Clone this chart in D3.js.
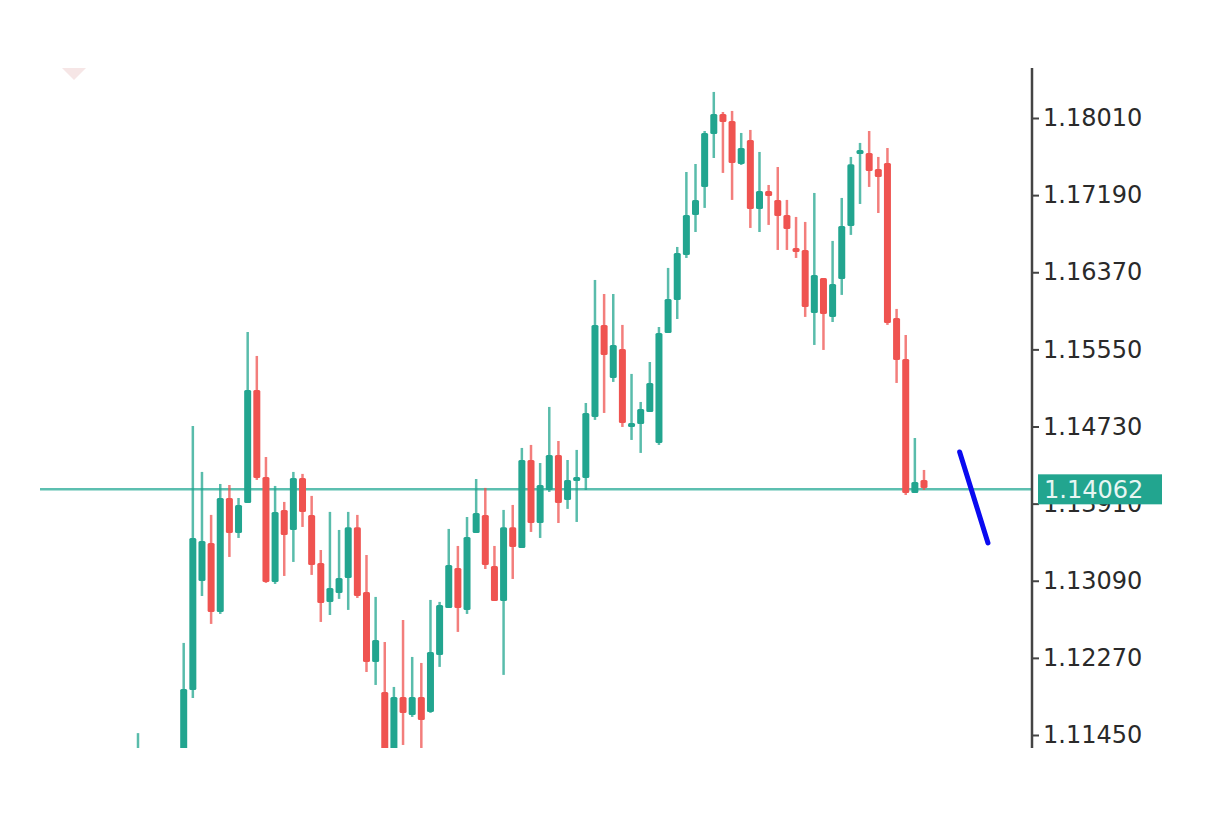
<!DOCTYPE html>
<html>
<head>
<meta charset="utf-8">
<script src="https://cdn.jsdelivr.net/npm/d3@7"></script>
<style>
  body { margin: 0; background: #fff; }
</style>
</head>
<body>
<div id="chart"></div>
<script>
// candle data (index order), prices
const opens  = [1.1108,1.1120,1.1095,1.1105,1.1085,1.1100,1.11929,1.13088,1.13492,1.12758,1.13970,1.13598,1.13917,1.15118,1.14194,1.13077,1.13843,1.13630,1.14183,1.13790,1.13279,1.12865,1.12960,1.13120,1.13660,1.12971,1.12227,1.11908,1.11185,1.11855,1.11663,1.11855,1.11695,1.12301,1.12801,1.13226,1.12780,1.13598,1.13790,1.13247,1.12875,1.13660,1.13439,1.14374,1.13704,1.14055,1.14427,1.13949,1.14172,1.14183,1.14832,1.15810,1.15246,1.15554,1.14747,1.14757,1.14885,1.14555,1.15724,1.16075,1.16554,1.16979,1.17277,1.17840,1.18053,1.17979,1.17521,1.17776,1.17043,1.17234,1.17139,1.16979,1.16628,1.16607,1.15937,1.16309,1.15895,1.16299,1.16862,1.17638,1.17638,1.17468,1.17532,1.15884,1.15448,1.14023,1.14162];
const highs  = [1.1147,1.1128,1.1110,1.1115,1.1112,1.12429,1.14736,1.14247,1.13790,1.14119,1.14108,1.13970,1.15735,1.15480,1.14406,1.14098,1.13928,1.14247,1.14226,1.13992,1.13417,1.13822,1.13630,1.13822,1.13790,1.13364,1.12918,1.12439,1.11961,1.12673,1.12280,1.12216,1.12886,1.12865,1.13641,1.13460,1.13768,1.14172,1.14077,1.13460,1.13843,1.13896,1.14502,1.14534,1.14342,1.14938,1.14576,1.14374,1.14481,1.14980,1.16288,1.16139,1.16139,1.15810,1.15289,1.14991,1.15416,1.15788,1.16416,1.16639,1.17436,1.17521,1.17872,1.18287,1.18074,1.18085,1.17851,1.17883,1.17649,1.17298,1.17489,1.17139,1.16958,1.16905,1.17213,1.16309,1.16703,1.17160,1.17596,1.17745,1.17872,1.17596,1.17691,1.15980,1.15703,1.14608,1.14268];
const lows   = [1.1092,1.1085,1.1080,1.1075,1.1078,1.1095,1.11844,1.12928,1.12631,1.12737,1.13343,1.13545,1.13917,1.14162,1.13067,1.13056,1.13141,1.13290,1.13662,1.13152,1.12652,1.12726,1.12897,1.12780,1.12907,1.12120,1.11982,1.11078,1.11132,1.11344,1.11642,1.11312,1.11685,1.12174,1.12801,1.12546,1.12737,1.13598,1.13215,1.12875,1.12089,1.13109,1.13439,1.13609,1.13545,1.14034,1.13704,1.13854,1.13715,1.14055,1.14800,1.14874,1.15204,1.14725,1.14587,1.14449,1.14885,1.14534,1.16086,1.15873,1.16522,1.16798,1.17054,1.17585,1.17426,1.17139,1.17511,1.16841,1.16798,1.16873,1.16607,1.16607,1.16522,1.15895,1.15597,1.15544,1.15841,1.16129,1.16767,1.17096,1.17277,1.17000,1.15810,1.15193,1.14002,1.14055,1.14055];
const closes = [1.1124,1.1095,1.1105,1.1085,1.1100,1.11940,1.13545,1.13513,1.12758,1.13970,1.13598,1.13896,1.15118,1.14183,1.13077,1.13822,1.13577,1.14183,1.13822,1.13258,1.12854,1.13013,1.13120,1.13660,1.12929,1.12227,1.12461,1.11132,1.11855,1.11685,1.11855,1.11610,1.12333,1.12833,1.13258,1.12801,1.13556,1.13811,1.13258,1.12875,1.13660,1.13449,1.14374,1.13704,1.14108,1.14427,1.13917,1.14162,1.14194,1.14874,1.15810,1.15491,1.15597,1.14768,1.14768,1.14916,1.15193,1.15724,1.16086,1.16575,1.16979,1.17139,1.17851,1.18053,1.17968,1.17532,1.17691,1.17043,1.17234,1.17181,1.16969,1.16830,1.16607,1.16001,1.16341,1.15927,1.16245,1.16862,1.17518,1.17670,1.17447,1.17383,1.15831,1.15437,1.14023,1.14140,1.14077];

const yTicks = [1.18010, 1.17190, 1.16370, 1.15550, 1.14730, 1.13910, 1.13090, 1.12270, 1.11450];
const lastPrice = 1.14062;
// hand-drawn trend line: [candle index, price]
const trendLine = [[89.9, 1.14459], [93.0, 1.13492]];

const W = 1232, H = 817;
const plot = { left: 40, right: 1032, top: 68, bottom: 748 };
const up = "#22a58f", down = "#ef5350";

const svg = d3.select("#chart").append("svg")
  .attr("width", W).attr("height", H);

const x = d3.scaleLinear().domain([0, 86]).range([138, 924]);
const y = d3.scaleLinear().domain([1.11450, 1.18010]).range([735, 118]);

svg.append("clipPath").attr("id", "clip")
  .append("rect")
  .attr("x", plot.left).attr("y", plot.top)
  .attr("width", plot.right - plot.left).attr("height", plot.bottom - plot.top);

// faint marker at top left
svg.append("path")
  .attr("d", "M62,68 L86,68 L74,80 Z")
  .attr("fill", "#f6e6e6");

const candles = d3.range(opens.length).map(i => ({
  i, o: opens[i], h: highs[i], l: lows[i], c: closes[i]
}));

const g = svg.append("g").attr("clip-path", "url(#clip)");

// current price line
g.append("line")
  .attr("x1", plot.left).attr("x2", plot.right)
  .attr("y1", y(lastPrice)).attr("y2", y(lastPrice))
  .attr("stroke", "#5cbfb0").attr("stroke-width", 2.5);

// wicks
g.selectAll(".wick").data(candles).enter().append("line")
  .attr("class", "wick")
  .attr("x1", d => x(d.i)).attr("x2", d => x(d.i))
  .attr("y1", d => y(d.h)).attr("y2", d => y(d.l))
  .attr("stroke", d => d.c >= d.o ? up : down)
  .attr("stroke-opacity", 0.75)
  .attr("stroke-width", 2.5);

// bodies
g.selectAll(".body").data(candles).enter().append("rect")
  .attr("class", "body")
  .attr("x", d => x(d.i) - 3.5)
  .attr("y", d => y(Math.max(d.o, d.c)))
  .attr("width", 7)
  .attr("height", d => Math.max(4, Math.abs(y(d.o) - y(d.c))))
  .attr("rx", 1.5)
  .attr("fill", d => d.c >= d.o ? up : down);

// trend line
svg.append("line")
  .attr("x1", x(trendLine[0][0])).attr("y1", y(trendLine[0][1]))
  .attr("x2", x(trendLine[1][0])).attr("y2", y(trendLine[1][1]))
  .attr("stroke", "#0a0af0").attr("stroke-width", 5)
  .attr("stroke-linecap", "round");

// right axis
const axis = svg.append("g")
  .attr("transform", `translate(${plot.right},0)`)
  .call(d3.axisRight(y).tickValues(yTicks).tickFormat(d3.format(".5f")).tickSize(7).tickPadding(4));
axis.select(".domain").remove();
axis.selectAll("text")
  .attr("font-family", "DejaVu Sans, sans-serif")
  .attr("font-size", 24).attr("fill", "#2a2a2a");
axis.selectAll(".tick line").attr("stroke", "#444").attr("stroke-width", 2);
svg.append("line")
  .attr("x1", plot.right).attr("x2", plot.right)
  .attr("y1", plot.top).attr("y2", plot.bottom)
  .attr("stroke", "#444").attr("stroke-width", 2.5);

// current price label
const ly = y(lastPrice);
svg.append("rect")
  .attr("x", 1038).attr("y", ly - 15)
  .attr("width", 124).attr("height", 30)
  .attr("fill", "#22a58f");
svg.append("text")
  .attr("x", 1044).attr("y", ly + 9)
  .attr("font-family", "DejaVu Sans, sans-serif")
  .attr("font-size", 24).attr("fill", "#e8f6f3")
  .text(d3.format(".5f")(lastPrice));
</script>
</body>
</html>
